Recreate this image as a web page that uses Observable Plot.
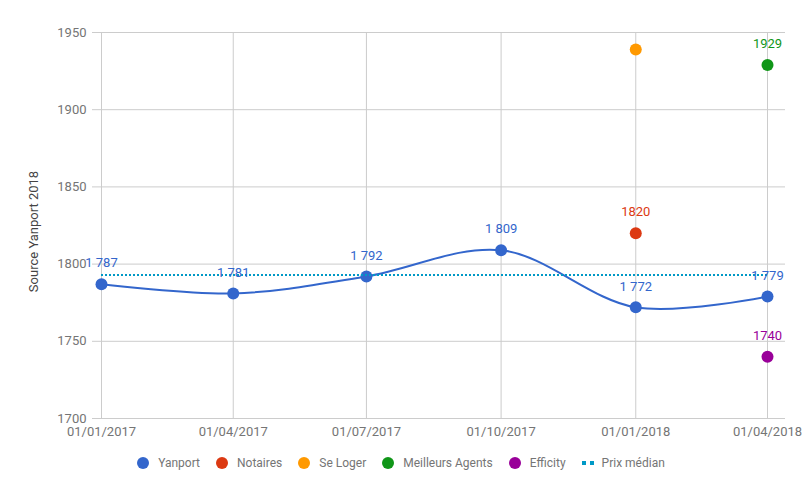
<!DOCTYPE html>
<html>
<head>
<meta charset="utf-8">
<script src="https://cdn.jsdelivr.net/npm/d3@7"></script>
<script src="https://cdn.jsdelivr.net/npm/@observablehq/plot@0.6"></script>
<style>
  html, body { margin: 0; padding: 0; background: #fff; }
  body { width: 802px; height: 496px; overflow: hidden; font-family: Roboto, "Noto Sans", sans-serif; }
  #legend { display: flex; justify-content: center; align-items: center; height: 36px; font-size: 12px; color: #757575; }
  .item { display: flex; align-items: center; margin: 0 8px; }
  .sw { width: 12px; height: 12px; border-radius: 50%; margin-right: 9px; }
  .dash { display: flex; gap: 4px; margin-right: 8px; }
  .dash span { width: 4px; height: 4px; background: #0099c6; }
</style>
</head>
<body>
<div id="chart"></div>
<div id="legend"></div>
<script>
// ---- data ----
const dates = ["2017-01-01", "2017-04-01", "2017-07-01", "2017-10-01", "2018-01-01", "2018-04-01"];
const yanport = [1787, 1781, 1792, 1809, 1772, 1779];
const notaires = [{date: "2018-01-01", value: 1820}];
const seLoger = [{date: "2018-01-01", value: 1939}];
const meilleursAgents = [{date: "2018-04-01", value: 1929}];
const efficity = [{date: "2018-04-01", value: 1740}];
const prixMedian = 1793;
const seriesNames = ["Yanport", "Notaires", "Se Loger", "Meilleurs Agents", "Efficity", "Prix médian"];
const yTicks = [1700, 1750, 1800, 1850, 1900, 1950];
const axisTitle = "Source Yanport 2018";

// ---- styles ----
const colors = {
  "Yanport": "#3366cc", "Notaires": "#dc3912", "Se Loger": "#ff9900",
  "Meilleurs Agents": "#109618", "Efficity": "#990099", "Prix médian": "#0099c6"
};

const parse = s => new Date(s + "T00:00:00Z");
const yan = dates.map((d, i) => ({date: parse(d), value: yanport[i]}));
const conv = arr => arr.map(d => ({date: parse(d.date), value: d.value}));
const not = conv(notaires), sel = conv(seLoger), ma = conv(meilleursAgents), eff = conv(efficity);
const fmtSpace = v => d3.format(",")(v).replace(",", " ");

const dotLabel = (data, color, fmt) => Plot.text(data, {
  x: "date", y: "value", text: d => fmt(d.value), dy: -21, fill: color,
  fontSize: 13, fontFamily: "Roboto"
});

const plot = Plot.plot({
  width: 802,
  height: 445,
  marginLeft: 92,
  marginRight: 17,
  marginTop: 32,
  marginBottom: 27,
  insetLeft: 9,
  insetRight: 18,
  style: {fontFamily: "Roboto", fontSize: "13px", background: "#fff"},
  x: {type: "utc", domain: [parse(dates[0]), parse(dates[dates.length - 1])]},
  y: {domain: [1700, 1950]},
  marks: [
    Plot.gridY(yTicks, {stroke: "#cccccc", strokeOpacity: 1}),
    Plot.gridX(dates.map(parse), {stroke: "#cccccc", strokeOpacity: 1}),
    Plot.axisY(yTicks, {tickSize: 0, tickPadding: 6, fill: "#757575", label: null, fontSize: 13,
      tickFormat: d => String(d)}),
    Plot.axisX(dates.map(parse), {tickSize: 0, tickPadding: 8, fill: "#757575", label: null,
      tickFormat: d3.utcFormat("%d/%m/%Y"), fontSize: 13}),
    Plot.text([axisTitle], {frameAnchor: "left", text: d => d, rotate: -90, textAnchor: "middle",
      dx: -59, dy: 6, fill: "#444", fontSize: 13}),
    Plot.line(yan, {x: "date", y: "value", stroke: colors["Yanport"], strokeWidth: 2, curve: "catmull-rom"}),
    Plot.dot(yan, {x: "date", y: "value", r: 6, fill: colors["Yanport"]}),
    Plot.dot(not, {x: "date", y: "value", r: 6, fill: colors["Notaires"]}),
    Plot.dot(sel, {x: "date", y: "value", r: 6, fill: colors["Se Loger"]}),
    Plot.dot(ma, {x: "date", y: "value", r: 6, fill: colors["Meilleurs Agents"]}),
    Plot.dot(eff, {x: "date", y: "value", r: 6, fill: colors["Efficity"]}),
    Plot.ruleY([prixMedian], {x1: parse(dates[0]), x2: parse(dates[dates.length - 1]),
      stroke: colors["Prix médian"], strokeWidth: 2, strokeDasharray: "2,2"}),
    dotLabel(yan, colors["Yanport"], fmtSpace),
    dotLabel(not, colors["Notaires"], d => String(d)),
    dotLabel(ma, colors["Meilleurs Agents"], d => String(d)),
    dotLabel(eff, colors["Efficity"], d => String(d))
  ]
});
document.getElementById("chart").appendChild(plot);

// ---- legend ----
const legend = document.getElementById("legend");
seriesNames.forEach(name => {
  const item = document.createElement("div");
  item.className = "item";
  if (name === "Prix médian") {
    item.innerHTML = `<div class="dash"><span></span><span></span></div>`;
  } else {
    item.innerHTML = `<div class="sw" style="background:${colors[name]}"></div>`;
  }
  const t = document.createElement("span");
  t.textContent = name;
  item.appendChild(t);
  legend.appendChild(item);
});
</script>
</body>
</html>
